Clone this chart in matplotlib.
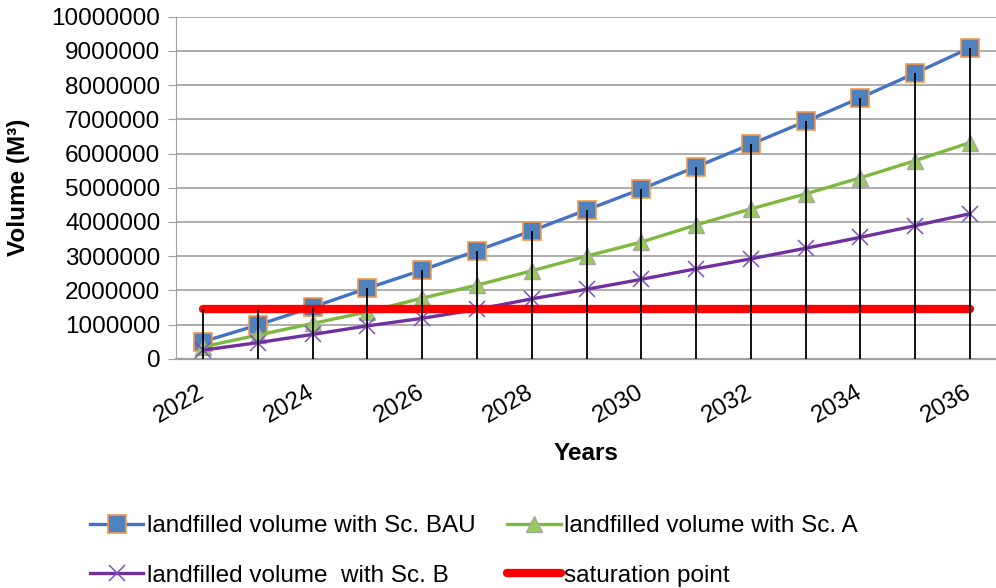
import numpy as np
import matplotlib
matplotlib.use('Agg')
import matplotlib.pyplot as plt

# landfill volumes per scenario (m3)
years = np.arange(2022, 2037)
vol_bau = [500000, 985000, 1510000, 2060000, 2590000, 3160000, 3740000, 4350000,
           4960000, 5610000, 6270000, 6940000, 7630000, 8350000, 9090000]
vol_a = [350000, 690000, 1030000, 1370000, 1770000, 2150000, 2570000, 3000000,
         3410000, 3910000, 4380000, 4820000, 5290000, 5790000, 6320000]
vol_b = [250000, 470000, 710000, 960000, 1180000, 1440000, 1750000, 2030000,
         2320000, 2630000, 2920000, 3230000, 3550000, 3890000, 4240000]
saturation = [1440000] * len(years)

labels = ['landfilled volume with Sc. BAU', 'landfilled volume with Sc. A',
          'landfilled volume  with Sc. B', 'saturation point']

plt.rcParams['font.family'] = ['Liberation Sans', 'DejaVu Sans']
fs = 17.5

fig = plt.figure(figsize=(9.96, 5.88), dpi=100)
W, H = 996, 588
ax_l, ax_b, ax_t = 175.7, 358.7, 16.7
ax = fig.add_axes([ax_l / W, 1 - ax_b / H, (W - ax_l) / W, (ax_b - ax_t) / H])

grid_c = '#A0A0A0'
ax.set_xlim(2021.5, 2036.475)
ax.set_ylim(0, 10000000)
ax.set_yticks(np.arange(0, 10000001, 1000000))
ax.set_yticklabels([str(v) for v in range(0, 10000001, 1000000)], fontsize=fs)
ax.yaxis.grid(True, color=grid_c, lw=1.2)
ax.set_axisbelow(True)
for s in ['top', 'right']:
    ax.spines[s].set_visible(False)
ax.spines['left'].set_color(grid_c)
ax.spines['bottom'].set_color(grid_c)
ax.spines['bottom'].set_linewidth(1.6)
ax.tick_params(axis='y', length=6, color=grid_c, pad=5)
ax.tick_params(axis='x', length=0)

tick_years = years[::2]
ax.set_xticks(tick_years)
ax.set_xticklabels([str(y) for y in tick_years], fontsize=fs, rotation=30,
                   ha='right', va='center', rotation_mode='anchor')
for lab in ax.get_xticklabels():
    lab.set_y(-0.08)

l_bau, = ax.plot(years, vol_bau, color='#4472C4', lw=2.4, marker='s', ms=12.5,
                 mfc='#4F81BD', mec='#F79646', mew=1.2, zorder=3)
l_a, = ax.plot(years, vol_a, color='#7DB93F', lw=2.4, marker='^', ms=12,
               mfc='#9BCB59', mec='#A6A6A6', mew=1.0, zorder=3)
l_b, = ax.plot(years, vol_b, color='#7030A0', lw=2.4, marker='x', ms=11,
               mec='#7E4FC0', mew=1.1, zorder=3)
l_sat, = ax.plot(years, saturation, color='#FF0000', lw=6, solid_capstyle='round',
                 zorder=4)

# drop lines from the highest series down to the axis
top = np.max(np.vstack([vol_bau, vol_a, vol_b, saturation]), axis=0)
ax.vlines(years, 0, top, colors='black', lw=1.3, zorder=5)

ax.set_ylabel('Volume (M³)', fontsize=fs, fontweight='bold', va='center')
ax.yaxis.set_label_coords((18 - ax_l) / (W - ax_l), 0.5)
fig.text(586 / W, 1 - 453 / H, 'Years', fontsize=fs, fontweight='bold',
         ha='center', va='center')

fig.legend([l_bau, l_b, l_a, l_sat], [labels[0], labels[2], labels[1], labels[3]],
           ncol=2, loc='upper left', bbox_to_anchor=(90 / W, 1 - 515 / H),
           frameon=False, fontsize=fs, handlelength=2.2, handletextpad=0.15,
           labelspacing=1.15, columnspacing=1.3, borderpad=0, borderaxespad=0,
           numpoints=1)

fig.savefig('out.png', dpi=100)
